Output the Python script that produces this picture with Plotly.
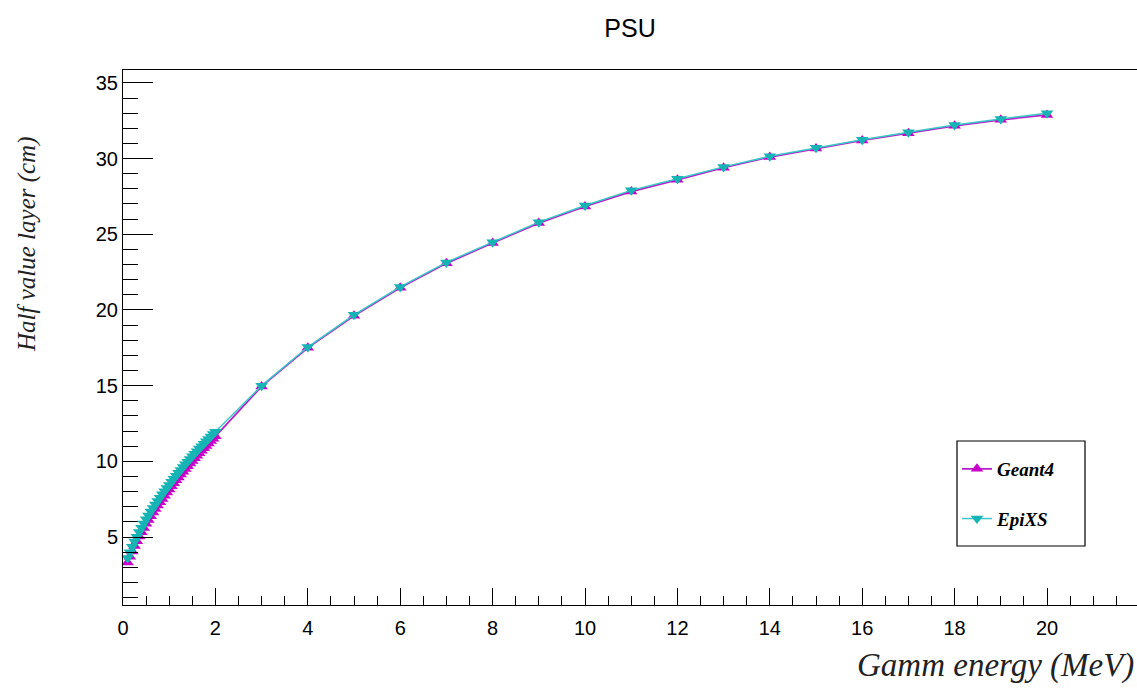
import plotly.graph_objects as go

# Energies (MeV)
energy = [0.10, 0.15, 0.20, 0.25, 0.30, 0.35, 0.40, 0.45, 0.50, 0.55,
          0.60, 0.65, 0.70, 0.75, 0.80, 0.85, 0.90, 0.95, 1.00, 1.05,
          1.10, 1.15, 1.20, 1.25, 1.30, 1.35, 1.40, 1.45, 1.50, 1.55,
          1.60, 1.65, 1.70, 1.75, 1.80, 1.85, 1.90, 1.95, 2.00,
          3, 4, 5, 6, 7, 8, 9, 10, 11, 12, 13, 14, 15, 16, 17, 18, 19, 20]

# Half value layer (cm)
geant4 = [3.32, 3.70, 4.05, 4.40, 4.72, 5.03, 5.32, 5.60, 5.87, 6.13,
          6.38, 6.62, 6.85, 7.08, 7.30, 7.52, 7.73, 7.94, 8.14, 8.35,
          8.55, 8.75, 8.94, 9.13, 9.32, 9.50, 9.68, 9.86, 10.03, 10.20,
          10.37, 10.54, 10.70, 10.86, 11.02, 11.18, 11.34, 11.50, 11.65,
          14.95, 17.50, 19.62, 21.47, 23.08, 24.42, 25.74, 26.84, 27.82, 28.60,
          29.40, 30.10, 30.66, 31.20, 31.68, 32.16, 32.56, 32.88]
epixs = [3.62, 4.00, 4.35, 4.70, 5.02, 5.33, 5.62, 5.90, 6.17, 6.43,
         6.68, 6.92, 7.15, 7.38, 7.60, 7.82, 8.03, 8.24, 8.44, 8.65,
         8.85, 9.05, 9.24, 9.43, 9.62, 9.80, 9.98, 10.16, 10.33, 10.50,
         10.67, 10.84, 11.00, 11.16, 11.32, 11.48, 11.64, 11.80, 11.95,
         15.00, 17.55, 19.68, 21.52, 23.14, 24.48, 25.80, 26.90, 27.90, 28.67,
         29.45, 30.15, 30.72, 31.25, 31.74, 32.22, 32.62, 33.00]

W, H = 1137, 688
L, R, T, B = 123, 0, 70, 83
PW, PH = W - L - R, H - T - B


def px_x(p):
    return (p - L) / PW


def px_y(p):
    return (H - B - p) / PH


fig = go.Figure()
fig.add_trace(go.Scatter(
    x=energy, y=geant4, mode="lines+markers", name="Geant4",
    legendgroup="g1",
    line=dict(color="#b41ec8", width=1.8),
    marker=dict(symbol="triangle-up", size=11, color="#c800c8"),
))
fig.add_trace(go.Scatter(
    x=energy, y=epixs, mode="lines+markers", name="EpiXS",
    legendgroup="g2",
    line=dict(color="#3cc8c8", width=1.5),
    marker=dict(symbol="triangle-down", size=11, color="#16b4b4"),
))

axis_font = dict(family="Liberation Sans, Arial, sans-serif", size=20, color="black")

fig.update_layout(
    width=W, height=H,
    margin=dict(l=L, r=R, t=T, b=B, pad=0),
    paper_bgcolor="white", plot_bgcolor="white",
    title=dict(text="PSU", x=630 / W, y=1 - 28 / H, xanchor="center", yanchor="middle",
               xref="container", yref="container",
               font=dict(family="Liberation Sans, Arial, sans-serif", size=25, color="black")),
    showlegend=True,
    legend=dict(
        x=px_x(957), y=px_y(450), xanchor="left", yanchor="top",
        bgcolor="rgba(0,0,0,0)", borderwidth=0,
        tracegroupgap=22,
        font=dict(family="Liberation Serif, Times New Roman, serif", size=19,
                  color="black", style="italic", weight="bold"),
    ),
    xaxis=dict(
        range=[0, PW / 46.2], showgrid=False, zeroline=False,
        showline=True, linecolor="black", linewidth=1, mirror=True,
        ticks="inside", ticklen=17, tickcolor="black", tickwidth=1,
        tick0=0, dtick=2, tickfont=axis_font, ticklabelstandoff=5,
        minor=dict(ticks="inside", ticklen=9, dtick=0.5, tick0=0,
                   tickcolor="black", showgrid=False),
    ),
    yaxis=dict(
        range=[0.51, 35.85], showgrid=False, zeroline=False,
        showline=True, linecolor="black", linewidth=1, mirror=False,
        ticks="inside", ticklen=30, tickcolor="black", tickwidth=1,
        tick0=0, dtick=5, tickfont=axis_font, ticklabelstandoff=0,
        minor=dict(ticks="inside", ticklen=15, dtick=1, tick0=0,
                   tickcolor="black", showgrid=False),
    ),
    shapes=[dict(type="rect", xref="paper", yref="paper",
                 x0=px_x(957), x1=px_x(1085), y0=px_y(546), y1=px_y(441),
                 line=dict(color="black", width=1.2), fillcolor="rgba(0,0,0,0)")],
    annotations=[
        dict(text="Half value layer (cm)", xref="paper", yref="paper",
             x=px_x(27), y=px_y(244), xanchor="center", yanchor="middle",
             textangle=-90, showarrow=False,
             font=dict(family="Liberation Serif, Times New Roman, serif", size=25,
                       color="#222222", style="italic")),
        dict(text="Gamm energy (MeV)", xref="paper", yref="paper",
             x=px_x(1136), y=px_y(665), xanchor="right", yanchor="middle",
             showarrow=False,
             font=dict(family="Liberation Serif, Times New Roman, serif", size=33,
                       color="#222222", style="italic")),
    ],
)

fig.write_html("out.html", config={"displayModeBar": False},
               post_script="document.body.style.margin='0px';")
